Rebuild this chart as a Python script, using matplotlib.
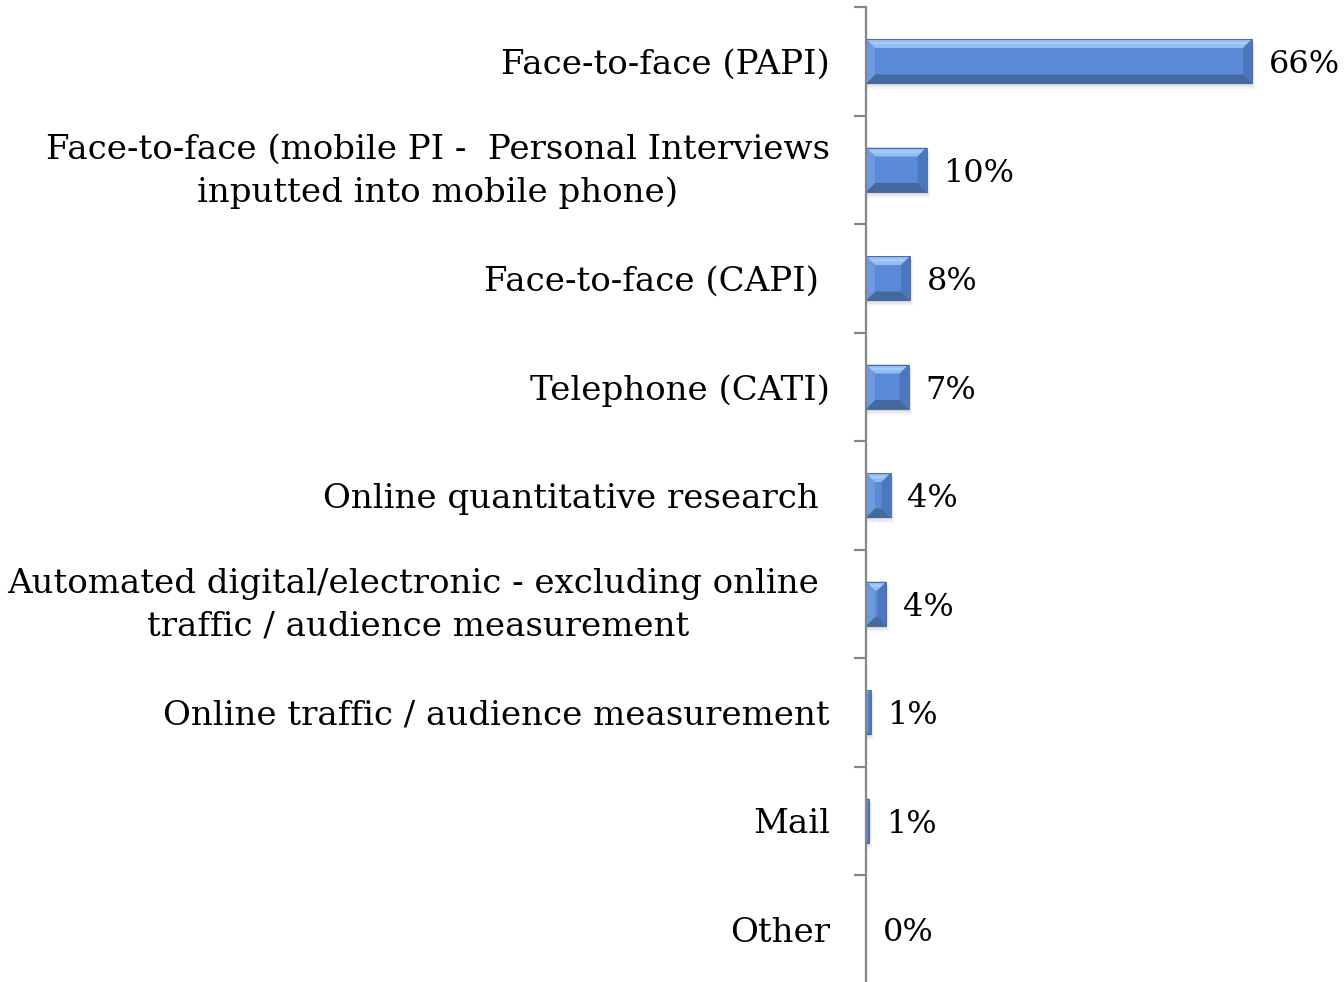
import matplotlib
matplotlib.use("Agg")
import matplotlib.pyplot as plt
import matplotlib.transforms as mtransforms
from matplotlib.patches import Polygon, Rectangle

# Survey: data collection methods, share of turnover
categories = [
    "Face-to-face (PAPI)",
    "Face-to-face (mobile PI -  Personal Interviews\ninputted into mobile phone)",
    "Face-to-face (CAPI) ",
    "Telephone (CATI)",
    "Online quantitative research ",
    "Automated digital/electronic - excluding online \ntraffic / audience measurement",
    "Online traffic / audience measurement",
    "Mail",
    "Other",
]
shares = [66.0, 10.35, 7.55, 7.3, 4.2, 3.5, 0.8, 0.55, 0.0]

plt.rcParams["font.family"] = ["DejaVu Serif"]

W, H, DPI = 1344, 982, 100
fig = plt.figure(figsize=(W / DPI, H / DPI), dpi=DPI)
ax_left = 866 / W
ax_right = 1275.5 / W
ax_top = 1 - 7 / H
ax_bottom = 1 - 983.5 / H
ax = fig.add_axes([ax_left, ax_bottom, ax_right - ax_left, ax_top - ax_bottom])

n = len(categories)
ys = list(range(n))
bar_h = 0.41
ax.set_xlim(0, 70)
ax.set_ylim(n - 0.5, -0.5)

axis_grey = "#868686"
for side in ("top", "right", "bottom"):
    ax.spines[side].set_visible(False)
ax.spines["left"].set_color(axis_grey)
ax.spines["left"].set_linewidth(1.6)
ax.spines["left"].set_zorder(6)
ax.xaxis.set_visible(False)

# category labels at centres, tick marks at category boundaries
ax.set_yticks(ys)
ax.set_yticklabels(categories, fontsize=24.5, multialignment="center",
                   linespacing=1.42)
ax.tick_params(axis="y", which="major", length=0, pad=26)
ax.set_yticks([i - 0.5 for i in range(n + 1)], minor=True)
ax.tick_params(axis="y", which="minor", length=9, width=1.6,
               color=axis_grey, direction="out")

# two-line labels sit a little higher
lift = mtransforms.ScaledTranslation(0, 5 / 72, fig.dpi_scale_trans)
for lbl in ax.get_yticklabels():
    if "\n" in lbl.get_text():
        lbl.set_transform(lbl.get_transform() + lift)

# main bar bodies
bars = ax.barh(ys, shares, height=bar_h, color="#5b8bd8", zorder=3,
               edgecolor="none")

fig.canvas.draw()
to_disp = ax.transData
to_data = ax.transData.inverted()


def poly(pts_px, color, z, alpha=1.0):
    pts = to_data.transform(pts_px)
    ax.add_patch(Polygon(pts, closed=True, facecolor=color, edgecolor="none",
                         zorder=z, alpha=alpha))


# bevelled faces and soft drop shadow, derived from each bar's geometry
for y, v in zip(ys, shares):
    if v <= 0:
        continue
    (X0, Yb), (X1, Yt) = to_disp.transform([(0, y + bar_h / 2),
                                           (v, y - bar_h / 2)])
    w = X1 - X0
    hh = Yt - Yb
    b = min(9.0, w / 2.0, hh / 2.0)
    # shadow
    for k, a in ((2, 0.10), (4, 0.08), (6, 0.05)):
        poly([(X0 + 1, Yb - k), (X1 + k / 2, Yb - k),
              (X1 + k / 2, Yt - 3), (X0 + 1, Yt - 3)], "#404040", 2, a)
    # top (light)
    poly([(X0, Yt), (X1, Yt), (X1 - b, Yt - b), (X0 + b, Yt - b)],
         "#93bcf3", 4)
    # highlight strip inside the top face
    poly([(X0 + b * 0.4, Yt - b * 0.35), (X1 - b * 0.4, Yt - b * 0.35),
          (X1 - b * 0.6, Yt - b * 0.6), (X0 + b * 0.6, Yt - b * 0.6)],
         "#a9cdf8", 4)
    # bottom (dark)
    poly([(X0, Yb), (X1, Yb), (X1 - b, Yb + b), (X0 + b, Yb + b)],
         "#44699f", 4)
    # left face
    poly([(X0, Yb), (X0, Yt), (X0 + b, Yt - b), (X0 + b, Yb + b)],
         "#6d99de", 4)
    # right face
    poly([(X1, Yb), (X1, Yt), (X1 - b, Yt - b), (X1 - b, Yb + b)],
         "#4c76bd", 4)
    # thin outline
    (dx0, dy0), (dx1, dy1) = to_data.transform([(X0, Yb), (X1, Yt)])
    ax.add_patch(Rectangle((dx0, dy1), dx1 - dx0, dy0 - dy1, fill=False,
                           edgecolor="#3b5d96", linewidth=0.6, zorder=5))

# value labels
for y, v in zip(ys, shares):
    ax.annotate(f"{v:.0f}%", xy=(v, y), xytext=(12, -2.5),
                textcoords="offset points", ha="left", va="center",
                fontsize=23, color="black", zorder=7)

fig.savefig("out.png", dpi=DPI, facecolor="white")
